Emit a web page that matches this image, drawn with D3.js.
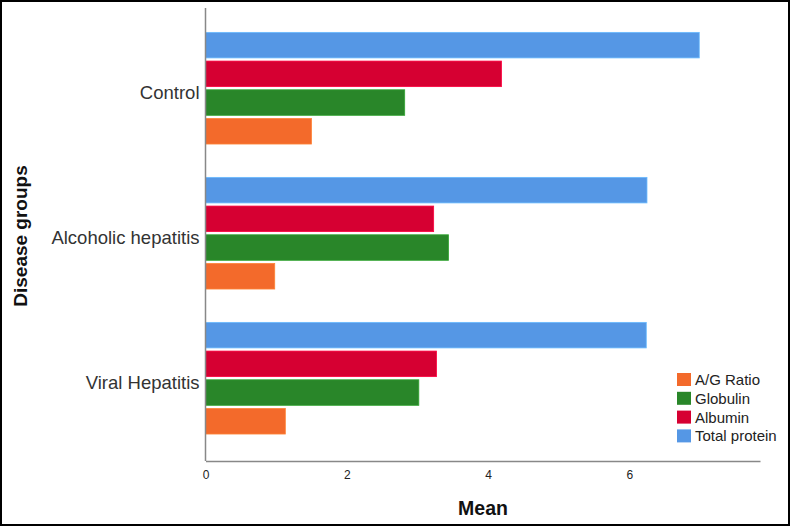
<!DOCTYPE html>
<html><head><meta charset="utf-8">
<script src="https://cdn.jsdelivr.net/npm/d3@7"></script>
<style>body{margin:0;background:#fff}svg{display:block}</style>
</head><body>
<script>
const groups = ["Control", "Alcoholic hepatitis", "Viral Hepatitis"];
const series = ["Total protein", "Albumin", "Globulin", "A/G Ratio"];
const totalProtein = [6.99, 6.25, 6.24];
const albumin = [4.19, 3.23, 3.27];
const globulin = [2.82, 3.44, 3.02];
const agRatio = [1.50, 0.98, 1.13];
const xTicks = [0, 2, 4, 6];
const legendOrder = ["A/G Ratio", "Globulin", "Albumin", "Total protein"];
const colors = {"Total protein": "#5597e5", "Albumin": "#d60032", "Globulin": "#298629", "A/G Ratio": "#f36a2b"};
const valuesBySeries = {"Total protein": totalProtein, "Albumin": albumin, "Globulin": globulin, "A/G Ratio": agRatio};

const W = 790, H = 526;
const FONT = "Arial, 'Liberation Sans', sans-serif";
const svg = d3.select("body").append("svg").attr("width", W).attr("height", H);
svg.append("rect").attr("x", 1).attr("y", 1).attr("width", W - 2).attr("height", H - 2)
  .attr("fill", "#fff").attr("stroke", "#000").attr("stroke-width", 2);

const x = d3.scaleLinear().domain([0, 7.85]).range([205.5, 760]);
const y0 = d3.scaleBand().domain(groups).range([15.7, 450.7]).paddingInner(0.23).paddingOuter(0.115);
const y1 = d3.scaleBand().domain(series).range([0, y0.bandwidth()]).paddingInner(0.11).paddingOuter(0);

const g = svg.append("g");
groups.forEach((grp, i) => {
  g.selectAll(null).data(series).enter().append("rect")
    .attr("x", x(0))
    .attr("y", s => y0(grp) + y1(s))
    .attr("width", s => x(valuesBySeries[s][i]) - x(0))
    .attr("height", y1.bandwidth())
    .attr("fill", s => colors[s])
    .attr("stroke", s => d3.color(colors[s]).brighter(0.6))
    .attr("stroke-width", 0.8);
});

// axes
const xAxis = d3.axisBottom(x).tickValues(xTicks).tickSize(0).tickPadding(9).tickFormat(d3.format("d"));
const xa = svg.append("g").attr("transform", "translate(0,461)").call(xAxis);
xa.select(".domain").attr("stroke", "#888").attr("stroke-width", 1.5);
xa.selectAll("text").attr("font-family", FONT).attr("font-size", 12).attr("fill", "#222");

const yAxis = d3.axisLeft(y0).tickSize(0).tickPadding(6);
const ya = svg.append("g").attr("transform", "translate(205.5,0)").call(yAxis);
ya.select(".domain").attr("d", "M0,8V461").attr("stroke", "#888").attr("stroke-width", 1.5);
ya.selectAll("text").attr("font-family", FONT).attr("font-size", 18.5).attr("fill", "#333")
  .attr("dy", "0.6em");

svg.append("text").attr("x", 483).attr("y", 515).attr("text-anchor", "middle")
  .attr("font-family", FONT).attr("font-weight", "bold").attr("font-size", 19.5)
  .attr("fill", "#111").text("Mean");
svg.append("text").attr("transform", "translate(27,236) rotate(-90)").attr("text-anchor", "middle")
  .attr("font-family", FONT).attr("font-weight", "bold").attr("font-size", 19)
  .attr("fill", "#111").text("Disease groups");

// legend
const lg = svg.append("g").attr("transform", "translate(677,373)");
legendOrder.forEach((s, i) => {
  lg.append("rect").attr("x", 0).attr("y", i * 18.8).attr("width", 14).attr("height", 13).attr("fill", colors[s]);
  lg.append("text").attr("x", 18).attr("y", i * 18.8 + 12)
    .attr("font-family", FONT).attr("font-size", 15).attr("fill", "#222").text(s);
});
</script>
</body></html>
